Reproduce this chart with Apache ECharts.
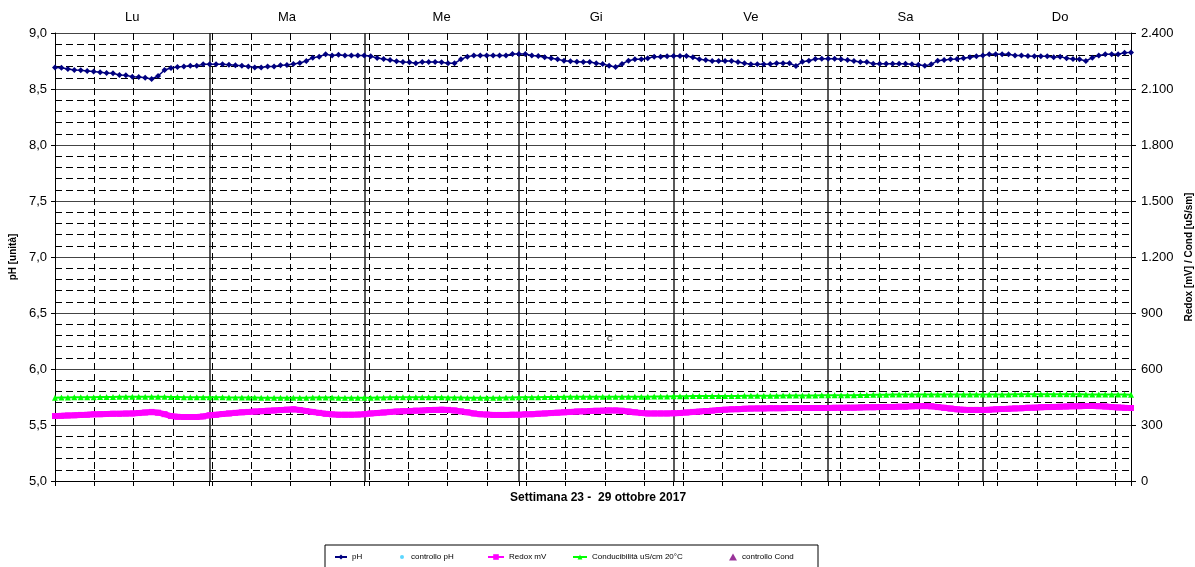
<!DOCTYPE html>
<html>
<head>
<meta charset="utf-8">
<script src="https://cdn.jsdelivr.net/npm/echarts@6/dist/echarts.min.js"></script>
<style>
html,body{margin:0;padding:0;background:#fff;}
#chart{width:1195px;height:567px;}
</style>
</head>
<body>
<div id="chart"></div>
<script>
// ---- data ----
const days = ['Lu', 'Ma', 'Me', 'Gi', 'Ve', 'Sa', 'Do'];
const hoursOfDay = ['00','01','02','03','04','05','06','07','08','09','10','11','12','13','14','15','16','17','18','19','20','21','22','23'];

const phValues = [
  8.693, 8.690, 8.678, 8.670, 8.667, 8.660, 8.657, 8.649, 8.643, 8.640, 8.625, 8.622, 8.610, 8.607, 8.601, 8.589,
  8.616, 8.670, 8.688, 8.696, 8.702, 8.708, 8.708, 8.720, 8.720, 8.720, 8.720, 8.717, 8.711, 8.708, 8.702, 8.693,
  8.693, 8.700,
  8.702, 8.711, 8.714, 8.723, 8.732, 8.750, 8.780, 8.789, 8.810, 8.800, 8.806, 8.800, 8.800, 8.800, 8.800, 8.792,
  8.777, 8.768, 8.759, 8.747, 8.741, 8.738, 8.729, 8.741, 8.741, 8.741, 8.738, 8.729, 8.729, 8.765, 8.789, 8.800, 8.800,
  8.800, 8.800, 8.798, 8.800, 8.812, 8.812, 8.812, 8.800, 8.795, 8.783, 8.774, 8.765, 8.753, 8.747, 8.744, 8.741,
  8.741, 8.729, 8.723, 8.708, 8.696, 8.723, 8.753, 8.765, 8.765, 8.774, 8.789, 8.789, 8.792, 8.795, 8.795, 8.795,
  8.783, 8.765,
  8.759, 8.750, 8.750, 8.750, 8.750, 8.741, 8.729, 8.720, 8.720, 8.720, 8.723, 8.729, 8.729, 8.729, 8.705, 8.744,
  8.753, 8.768, 8.771, 8.771, 8.771, 8.765, 8.759, 8.750, 8.741, 8.741, 8.726, 8.726, 8.726, 8.726, 8.726, 8.726, 8.720,
  8.717, 8.708, 8.720, 8.753, 8.759, 8.765, 8.768, 8.774, 8.783, 8.792, 8.800, 8.810, 8.810, 8.810, 8.810, 8.800,
  8.800, 8.795, 8.792, 8.792, 8.792, 8.783, 8.789, 8.774, 8.768, 8.765, 8.750, 8.780, 8.798, 8.810, 8.810, 8.810,
  8.824, 8.827
];

const redoxValues = [
  348, 349, 351, 352, 354, 355, 357, 358, 359, 360, 360, 361, 362, 364, 367, 370, 366, 358, 348, 344, 343, 343, 343, 346,
  352, 355, 359, 362, 365, 368, 370, 372, 374, 376, 378, 380, 382, 384, 380, 375, 370, 365, 360, 357, 355, 355, 355, 356,
  358, 362, 364, 367, 370, 372, 374, 375, 377, 378, 380, 381, 382, 381, 378, 373, 368, 362, 358, 356, 354, 354, 354, 355,
  355, 357, 358, 360, 362, 364, 366, 368, 370, 372, 373, 375, 376, 377, 378, 378, 376, 372, 368, 364, 362, 362, 362, 362,
  363, 364, 367, 370, 372, 375, 377, 380, 382, 384, 385, 387, 388, 389, 389, 390, 390, 390, 391, 391, 391, 391, 391, 391,
  391, 392, 392, 393, 393, 394, 395, 395, 396, 397, 397, 398, 398, 400, 401, 402, 400, 396, 392, 388, 384, 382, 381, 381,
  381, 382, 384, 386, 387, 389, 390, 392, 393, 395, 396, 397, 398, 399, 400, 401, 402, 402, 401, 399, 396, 394, 392, 391
];

const condValues = [
  446, 447, 447, 448, 448, 449, 449, 450, 450, 450, 451, 451, 451, 452, 452, 452, 451, 451, 450, 450, 449, 449, 449, 448,
  448, 448, 448, 447, 447, 447, 447, 447, 446, 446, 446, 446, 446, 446, 446, 446, 447, 447, 447, 447, 446, 446, 446, 446,
  446, 446, 447, 447, 448, 448, 449, 449, 449, 449, 449, 448, 448, 447, 447, 447, 446, 446, 446, 446, 446, 446, 447, 447,
  448, 448, 449, 449, 450, 450, 450, 451, 451, 451, 451, 451, 452, 452, 452, 452, 452, 452, 452, 452, 452, 453, 453, 453,
  454, 454, 454, 455, 455, 455, 455, 456, 456, 456, 456, 457, 457, 457, 457, 457, 457, 458, 458, 458, 458, 458, 458, 459,
  459, 459, 460, 460, 460, 461, 461, 462, 462, 462, 463, 463, 463, 463, 464, 464, 464, 463, 463, 463, 463, 463, 463, 463,
  463, 463, 464, 464, 464, 465, 465, 465, 465, 465, 465, 465, 465, 465, 465, 465, 464, 464, 464, 464, 463, 463, 463, 462
];

const controlloPh = [];
const controlloCond = [];

const leftTicks = { min: 5, max: 9, interval: 0.5 };
const rightTicks = { min: 0, max: 2400, interval: 300 };
const xTitle = 'Settimana 23 -  29 ottobre 2017';

// ---- build ----
const categories = [];
days.forEach(d => hoursOfDay.forEach(h => categories.push(d + ' ' + h)));

const chart = echarts.init(document.getElementById('chart'), null, { renderer: 'canvas' });
const FONT = 'Liberation Sans, Arial, sans-serif';

const gridLeft = 55, gridRight = 64, gridTop = 33, gridBottom = 86;
const plotW = 1195 - gridLeft - gridRight;
const dashedStep = 39.27;

function legendItem(name, left, w, h) {
  return {
    data: [name], left: left, top: 553, itemWidth: w, itemHeight: h, itemGap: 0, padding: 0,
    selectedMode: false, textStyle: { fontFamily: FONT, fontSize: 8, color: '#000' }
  };
}

const option = {
  animation: false,
  backgroundColor: '#fff',
  textStyle: { fontFamily: FONT },
  grid: { left: gridLeft, right: gridRight, top: gridTop, bottom: gridBottom, containLabel: false, outerBoundsMode: 'none' },
  legend: [
    legendItem('pH', 334, 12, 6),
    legendItem('controllo pH', 400, 8, 4),
    legendItem('Redox mV', 487, 16, 7),
    legendItem('Conducibilità uS/cm 20°C', 572, 14, 6),
    legendItem('controllo Cond', 729, 8, 7)
  ],
  xAxis: [
    {
      type: 'category', position: 'top', data: categories, boundaryGap: false,
      axisLine: { show: true, lineStyle: { color: '#000', width: 1 } },
      axisTick: { show: false },
      axisLabel: {
        interval: (i) => i % 24 === 12,
        formatter: (v) => v.split(' ')[0],
        fontSize: 13, color: '#000', margin: 9, fontFamily: FONT
      },
      splitLine: {
        show: true, interval: (i) => i % 24 === 0 && i > 0,
        lineStyle: { color: '#222', width: 1.5, type: 'solid' }
      }
    },
    {
      type: 'value', position: 'bottom', min: 0, max: plotW / dashedStep, interval: 1,
      axisLine: { show: true, onZero: false, lineStyle: { color: '#000', width: 1 } },
      axisTick: { show: true, length: 5, lineStyle: { color: '#000' } },
      axisLabel: { show: false },
      splitLine: { show: true, lineStyle: { color: '#000', width: 1, type: [7, 4] } }
    },
    {
      type: 'category', position: 'bottom', data: categories, boundaryGap: false,
      axisLine: { show: false },
      axisTick: { show: true, length: 5, interval: (i) => i % 24 === 0 && i > 0, lineStyle: { color: '#000' } },
      axisLabel: { show: false },
      splitLine: { show: false }
    }
  ],
  yAxis: [
    {
      type: 'value', position: 'left', min: leftTicks.min, max: leftTicks.max, interval: leftTicks.interval,
      name: 'pH [unità]', nameLocation: 'middle', nameGap: 35, nameRotate: 90,
      nameTextStyle: { fontFamily: FONT, fontSize: 10, fontWeight: 'bold', color: '#000' },
      axisLine: { show: true, lineStyle: { color: '#000', width: 1 } },
      axisTick: { show: true, length: 4, lineStyle: { color: '#000' } },
      axisLabel: { fontSize: 13, color: '#000', margin: 8, fontFamily: FONT,
        formatter: (v) => v.toFixed(1).replace('.', ',') },
      splitLine: { show: true, lineStyle: { color: '#444', width: 1 } },
      minorTick: { show: false, splitNumber: 5 },
      minorSplitLine: { show: true, lineStyle: { color: '#000', width: 1, type: [7, 4] } }
    },
    {
      type: 'value', position: 'right', min: rightTicks.min, max: rightTicks.max, interval: rightTicks.interval,
      name: 'Redox [mV] / Cond [uS/sm]', nameLocation: 'middle', nameGap: 47, nameRotate: 90,
      nameTextStyle: { fontFamily: FONT, fontSize: 10, fontWeight: 'bold', color: '#000' },
      axisLine: { show: true, lineStyle: { color: '#000', width: 1 } },
      axisTick: { show: true, length: 5, lineStyle: { color: '#000' } },
      axisLabel: { fontSize: 13, color: '#000', margin: 10, fontFamily: FONT,
        formatter: (v) => v >= 1000 ? Math.floor(v / 1000) + '.' + String(v % 1000).padStart(3, '0') : String(v) },
      splitLine: { show: false }
    }
  ],
  series: [
    {
      name: 'pH', type: 'line', xAxisIndex: 0, yAxisIndex: 0, data: phValues,
      color: '#000080', symbol: 'diamond', symbolSize: 6, showSymbol: true, showAllSymbol: true,
      lineStyle: { width: 1.5, color: '#000080' }, itemStyle: { color: '#000080' }, z: 5
    },
    {
      name: 'controllo pH', type: 'scatter', xAxisIndex: 0, yAxisIndex: 0, data: controlloPh,
      symbol: 'circle', symbolSize: 5, itemStyle: { color: '#33CCFF' }
    },
    {
      name: 'Redox mV', type: 'line', xAxisIndex: 0, yAxisIndex: 1, data: redoxValues,
      color: '#FF00FF', symbol: 'rect', symbolSize: 6, showSymbol: true, showAllSymbol: true,
      lineStyle: { width: 6, color: '#FF00FF' }, itemStyle: { color: '#FF00FF' }, z: 3
    },
    {
      name: 'Conducibilità uS/cm 20°C', type: 'line', xAxisIndex: 0, yAxisIndex: 1, data: condValues,
      color: '#00FF00', symbol: 'triangle', symbolSize: 6, showSymbol: true, showAllSymbol: true,
      lineStyle: { width: 2, color: '#00FF00' }, itemStyle: { color: '#00FF00' }, z: 3
    },
    {
      name: 'controllo Cond', type: 'scatter', xAxisIndex: 0, yAxisIndex: 1, data: controlloCond,
      symbol: 'triangle', symbolSize: 7, itemStyle: { color: '#800080' }
    }
  ],
  graphic: [
    {
      type: 'text', left: 510, top: 492,
      style: { text: xTitle, font: 'bold 12px ' + FONT, fill: '#000' }
    },
    {
      type: 'text', left: 607, top: 335,
      style: { text: 'C', font: '8px ' + FONT, fill: '#000' }
    },
    {
      type: 'rect', shape: { x: 325, y: 545, width: 493, height: 40 },
      style: { fill: 'none', stroke: '#000', lineWidth: 1 }, z: -1
    }
  ]
};

chart.setOption(option);
</script>
</body>
</html>
